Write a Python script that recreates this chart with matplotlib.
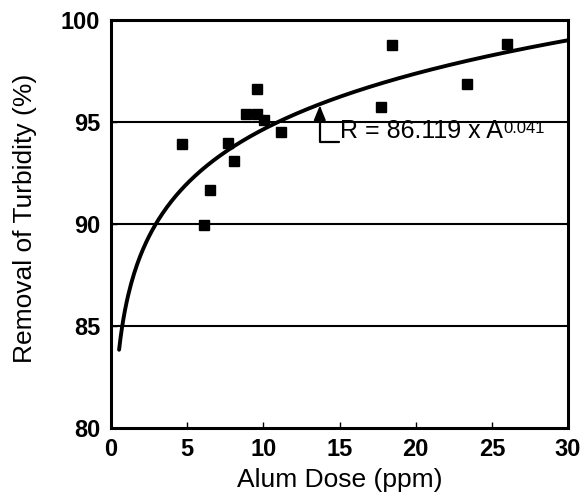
import numpy as np
import matplotlib
matplotlib.use("Agg")
import matplotlib.pyplot as plt

# ------------------ data ------------------
alum_dose = [4.65, 6.1, 6.5, 7.65, 8.05, 8.85, 9.55, 9.55, 10.05, 11.15,
             17.75, 18.45, 23.35, 26.0]
turbidity_removal = [93.9, 89.95, 91.65, 93.95, 93.1, 95.4, 95.4, 96.6, 95.1, 94.5,
                     95.75, 98.75, 96.85, 98.8]

# fitted power law R = a * A^b
FIT_A = 86.119
FIT_B = 0.041
fit_x = np.linspace(0.52, 30, 300)
fit_y = FIT_A * fit_x ** FIT_B

x_ticks = [0, 5, 10, 15, 20, 25, 30]
y_ticks = [80, 85, 90, 95, 100]
grid_levels = [85, 90, 95]
# --------------------------------------------------------------

plt.rcParams['font.family'] = ['Liberation Sans', 'DejaVu Sans']

fig = plt.figure(figsize=(5.82, 4.99), dpi=100)
ax = fig.add_axes([0.191, 0.142, 0.785, 0.818])

for lvl in grid_levels:
    ax.axhline(lvl, color='black', lw=1.5, zorder=1)

ax.plot(fit_x, fit_y, color='black', lw=2.8, solid_capstyle='round', zorder=2)
ax.plot(alum_dose, turbidity_removal, 's', color='black', markersize=7, zorder=3)

# label for the fitted curve, with a bent arrow up to the line
xa = 13.7
ax.annotate('', xy=(xa, FIT_A * xa ** FIT_B), xytext=(14.95, 94.02),
            arrowprops=dict(arrowstyle='-|>,head_width=0.35,head_length=0.85', color='black', lw=1.6,
                            connectionstyle='angle,angleA=0,angleB=90,rad=0',
                            shrinkA=0, shrinkB=1))
eq = ax.text(15.0, 94.2, 'R = 86.119 x A', fontsize=18, va='baseline', ha='left')
# exponent as a small raised text right after the "A"
ax.annotate('%.3f' % FIT_B, xy=(1, 1), xycoords=eq, xytext=(1, -1.5), textcoords='offset points',
            fontsize=12, va='top', ha='left')

ax.set_xlim(0, 30)
ax.set_ylim(80, 100)
ax.set_xticks(x_ticks)
ax.set_yticks(y_ticks)
ax.tick_params(direction='in', length=4, width=1, labelsize=17)
ax.tick_params(axis='x', pad=7)
ax.tick_params(axis='y', pad=8)
for lab in ax.get_xticklabels() + ax.get_yticklabels():
    lab.set_fontweight('bold')
for sp in ax.spines.values():
    sp.set_linewidth(2.2)

ax.set_xlabel('Alum Dose (ppm)', fontsize=19)
ax.set_ylabel('Removal of Turbidity (%)', fontsize=19)
ax.xaxis.set_label_coords(0.501, -0.098)
ax.yaxis.set_label_coords(-0.162, 0.515)

fig.savefig('out.png', dpi=100)
